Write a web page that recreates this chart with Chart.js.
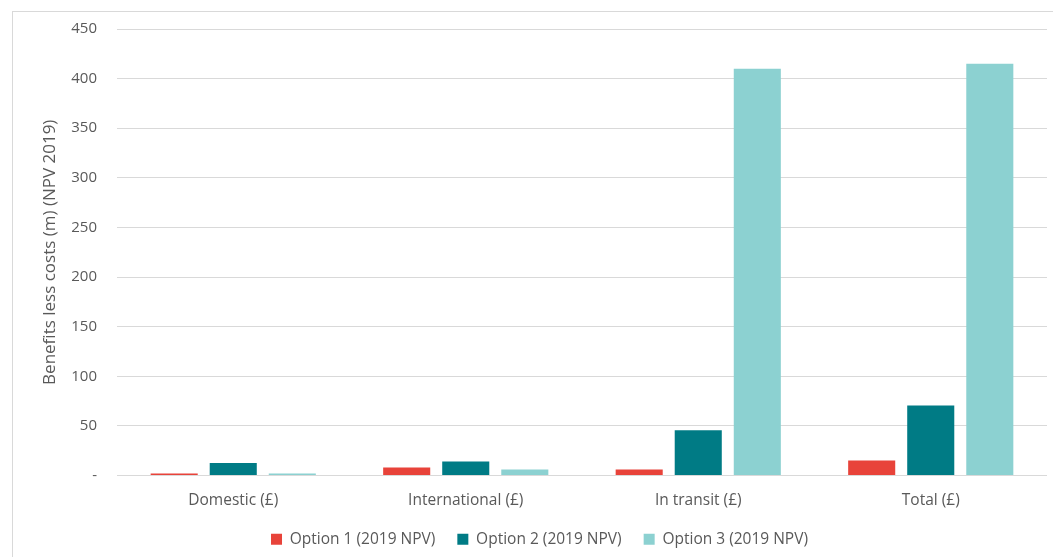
<!DOCTYPE html>
<html>
<head>
<meta charset="utf-8">
<script src="https://cdn.jsdelivr.net/npm/chart.js@4/dist/chart.umd.min.js"></script>
<style>
  html, body { margin: 0; padding: 0; background: #fff; overflow: hidden; }
  #wrap { position: relative; width: 1053px; height: 557px; overflow: hidden; }
  #frame {
    position: absolute; left: 12px; top: 11px; width: 1060px; height: 560px;
    border: 1px solid #d9d9d9; box-sizing: border-box;
  }
  #chart { position: absolute; left: 0; top: 0; }
</style>
</head>
<body>
<div id="wrap">
  <div id="frame"></div>
  <canvas id="chart" width="1053" height="557"></canvas>
</div>
<script>
const categories = ["Domestic (£)", "International (£)", "In transit (£)", "Total (£)"];
const option1 = [2, 8, 6, 15];
const option2 = [12.5, 14, 45.5, 70.5];
const option3 = [2, 6, 410, 415];
const yTicks = [0, 50, 100, 150, 200, 250, 300, 350, 400, 450];

const textColor = "#595959";
const fontFamily = "'Open Sans', sans-serif";

new Chart(document.getElementById("chart"), {
  type: "bar",
  data: {
    labels: categories,
    datasets: [
      { label: "Option 1 (2019 NPV)", data: option1, backgroundColor: "#e8433a" },
      { label: "Option 2 (2019 NPV)", data: option2, backgroundColor: "#007b85" },
      { label: "Option 3 (2019 NPV)", data: option3, backgroundColor: "#8cd1d1" }
    ]
  },
  options: {
    responsive: false,
    animation: false,
    categoryPercentage: 0.762,
    barPercentage: 0.797,
    layout: { padding: { top: 29, right: 6, bottom: 0, left: 32 } },
    plugins: {
      tooltip: { enabled: false },
      legend: {
        position: "bottom",
        labels: {
          boxWidth: 11,
          boxHeight: 11,
          padding: 22,
          color: textColor,
          font: { family: fontFamily, size: 15.5 }
        }
      }
    },
    scales: {
      x: {
        afterFit: scale => { scale.height = 34; },
        grid: { display: false, drawTicks: false },
        border: { display: false },
        ticks: {
          color: textColor,
          padding: 16,
          font: { family: fontFamily, size: 15.5 }
        }
      },
      y: {
        min: 0,
        max: 450,
        afterBuildTicks: scale => { scale.ticks = yTicks.map(v => ({ value: v })); },
        afterFit: scale => { scale.width = 85; },
        grid: { color: "#d9d9d9", lineWidth: 1, drawTicks: false },
        border: { display: false },
        ticks: {
          color: textColor,
          padding: 20,
          font: { family: fontFamily, size: 15 },
          callback: v => (v === 0 ? "-" : v)
        },
        title: {
          display: true,
          text: "Benefits less costs (m) (NPV 2019)",
          color: textColor,
          padding: { top: 8, bottom: 0 },
          font: { family: fontFamily, size: 17 }
        }
      }
    }
  }
});
</script>
</body>
</html>
